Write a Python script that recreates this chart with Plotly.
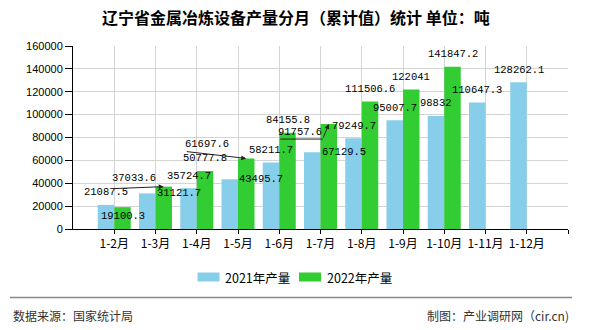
import plotly.graph_objects as go

categories = ["1-2月", "1-3月", "1-4月", "1-5月", "1-6月", "1-7月", "1-8月",
              "1-9月", "1-10月", "1-11月", "1-12月"]
values_2021 = [21087.5, 31121.7, 35724.7, 43495.7, 58211.7, 67129.5, 79249.7,
               95007.7, 98832, 110647.3, 128262.1]
values_2022 = [19100.3, 37033.6, 50777.8, 61697.6, 84155.8, 91757.6, 111506.6,
               122041, 141847.2, None, None]
series_names = ["2021年产量", "2022年产量"]
colors = ["#87CEEB", "#32CD32"]
title_text = "辽宁省金属冶炼设备产量分月（累计值）统计 单位：吨"
source_text = "数据来源：国家统计局"
maker_text = "制图：产业调研网（cir.cn)"

W, H = 590, 330
L, R, T, B = 73, 22, 46, 101
PW, PH = W - L - R, H - T - B


def px(x):
    return (x - L) / PW


def py(y):
    return (H - B - y) / PH


def fmt(v):
    s = ("%f" % v).rstrip("0").rstrip(".")
    return s


xpos = list(range(1, len(categories) + 1))
fig = go.Figure()
for name, vals, col in zip(series_names, [values_2021, values_2022], colors):
    fig.add_trace(go.Bar(x=xpos, y=vals, name=name, marker_color=col,
                         marker_line_width=0, showlegend=False))

LABEL_FONT = dict(family="Liberation Mono, DejaVu Sans Mono, monospace", size=10.5, color="black")
annotations = []

# special label placements: (series index, category index) -> style
special = {
    (1, 0): ("inside",),
    (0, 1): ("right",),
    (0, 3): ("right",),
    (0, 5): ("right",),
    (1, 1): ("leader", -30, 9, [(-51, 2)]),
    (1, 3): ("leader", -39, 14, [(-61, -7)]),
    (1, 5): ("leader", -29, -8, [(-50, 15), (-6, 15)]),
}

for s, vals in enumerate([values_2021, values_2022]):
    off = -0.2 if s == 0 else 0.2
    for i, v in enumerate(vals):
        if v is None:
            continue
        x = xpos[i] + off
        style = special.get((s, i), ("above",))
        kind = style[0]
        if kind == "above":
            annotations.append(dict(x=x, y=v, text=fmt(v), showarrow=False, yshift=12.5,
                                    xanchor="center", yanchor="middle", font=LABEL_FONT))
        elif kind == "inside":
            annotations.append(dict(x=x, y=v, text=fmt(v), showarrow=False, yshift=-9,
                                    xanchor="center", yanchor="middle", font=LABEL_FONT))
        elif kind == "right":
            annotations.append(dict(x=xpos[i], y=v, text=fmt(v), showarrow=False, yshift=0.5,
                                    xshift=-1, xanchor="left", yanchor="middle", font=LABEL_FONT))
        elif kind == "leader":
            _, dx, dy, pts = style
            annotations.append(dict(x=x, y=v, text=fmt(v), showarrow=False, xshift=dx, yshift=dy,
                                    xanchor="center", yanchor="middle", font=LABEL_FONT))
            # segments: pts are screen offsets (y down) relative to tip
            chain = pts + [(0, 0)]
            for k in range(len(chain) - 1):
                (x0, y0), (x1, y1) = chain[k], chain[k + 1]
                last = k == len(chain) - 2
                annotations.append(dict(x=x, y=v, text="", showarrow=True,
                                        xshift=x1, yshift=-y1,
                                        ax=x0 - x1, ay=y0 - y1,
                                        arrowhead=2 if last else 0, arrowsize=1,
                                        arrowwidth=1, arrowcolor="#222222", standoff=0))

CJK = "Noto Sans CJK SC, sans-serif"
# custom legend
leg_y = 277
for name, col, sx, tx in [(series_names[0], colors[0], 197.5, 223),
                          (series_names[1], colors[1], 299, 325)]:
    fig.add_shape(type="rect", xref="paper", yref="paper",
                  x0=px(sx), x1=px(sx + 22), y0=py(leg_y - 4.5), y1=py(leg_y + 4.5),
                  fillcolor=col, line_width=0)
    annotations.append(dict(xref="paper", yref="paper", x=px(tx), y=py(leg_y), text=name,
                            showarrow=False, xanchor="left", yanchor="middle",
                            font=dict(family=CJK, size=12.5, color="black")))

# separator line and footer
fig.add_shape(type="line", xref="paper", yref="paper", x0=px(10), x1=px(572),
              y0=py(297.5), y1=py(297.5), line=dict(color="#888888", width=1.5))
annotations.append(dict(xref="paper", yref="paper", x=px(11), y=py(315), text=source_text,
                        showarrow=False, xanchor="left", yanchor="middle",
                        font=dict(family=CJK, size=12, color="#333333")))
annotations.append(dict(xref="paper", yref="paper", x=px(571), y=py(315), text=maker_text,
                        showarrow=False, xanchor="right", yanchor="middle",
                        font=dict(family=CJK, size=12, color="#333333")))
annotations.append(dict(xref="paper", yref="paper", x=px(296), y=py(17), text=title_text,
                        showarrow=False, xanchor="center", yanchor="middle",
                        font=dict(family="Noto Sans CJK SC", size=16, color="black",
                                  weight="bold")))

fig.update_layout(
    width=W, height=H,
    margin=dict(l=L, r=R, t=T, b=B, pad=0),
    paper_bgcolor="white", plot_bgcolor="white",
    barmode="group", bargap=0.2, bargroupgap=0,
    showlegend=False,
    annotations=annotations,
    xaxis=dict(range=[0, 12], tickmode="array", tickvals=xpos + [12],
               ticktext=categories + [""], showgrid=True, gridcolor="#d4d4d4",
               gridwidth=1, showline=True, linecolor="black", linewidth=1,
               ticks="outside", ticklen=4, tickcolor="black", tickangle=0,
               tickfont=dict(family=CJK, size=12, color="black"), zeroline=False,
               fixedrange=True),
    yaxis=dict(range=[0, 160000], dtick=20000, tickformat="d", showgrid=True,
               gridcolor="#d4d4d4", gridwidth=1, showline=True, linecolor="black",
               linewidth=1, ticks="outside", ticklen=7, tickcolor="black",
               tickfont=dict(family="Liberation Sans, Arial, sans-serif", size=11,
                             color="black"), zeroline=False, fixedrange=True),
)

fig.write_html("out.html", config={"displayModeBar": False})
